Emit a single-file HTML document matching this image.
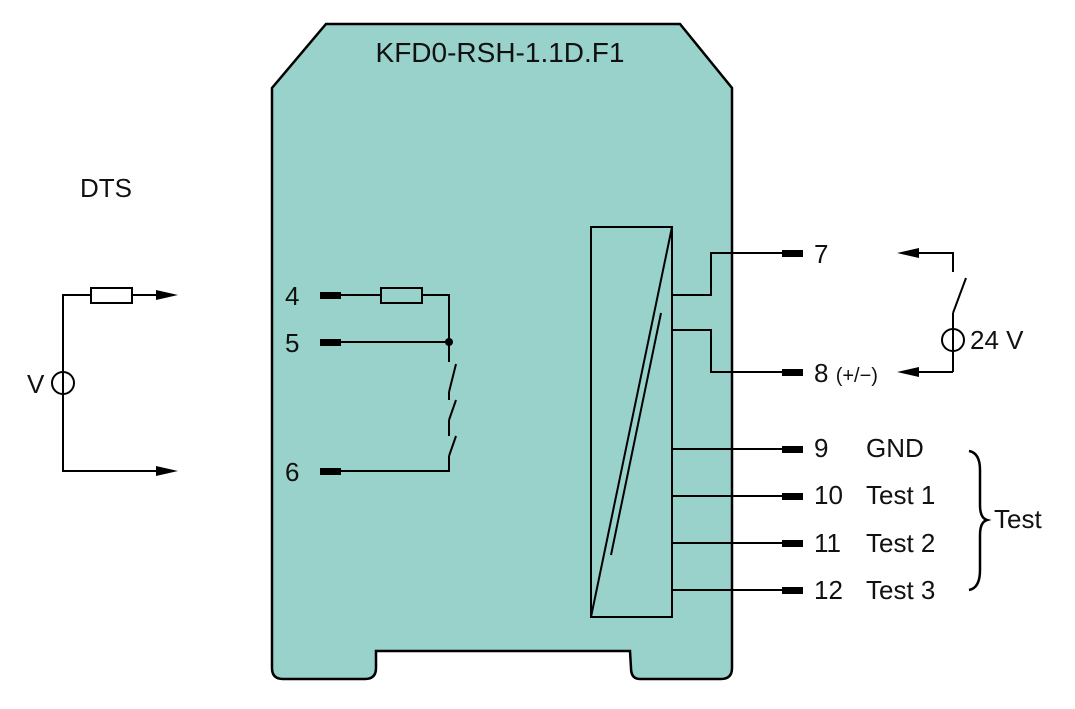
<!DOCTYPE html>
<html><head><meta charset="utf-8"><style>
html,body{margin:0;padding:0;background:#fff;}
svg{display:block;}
text{font-family:"Liberation Sans",sans-serif;fill:#111;}
</style></head><body>
<svg width="1075" height="709" viewBox="0 0 1075 709" xmlns="http://www.w3.org/2000/svg">
<path d="M326,24 L680,24 L732,88 L732,668 Q732,679 721,679 L640,679 Q631,679 631,668 L630,651 L376,651 L376,668 Q376,679 365,679 L283,679 Q272,679 272,668 L272,88 Z" fill="#99d1cb" stroke="#000" stroke-width="2.5"/>
<text x="500" y="62" font-size="28" text-anchor="middle">KFD0-RSH-1.1D.F1</text>
<text x="80" y="197" font-size="26">DTS</text>
<g stroke="#000" stroke-width="2" fill="none">
<rect x="591" y="227" width="81" height="390"/>
<line x1="591" y1="617" x2="672" y2="227"/>
<line x1="661" y1="313" x2="611" y2="555"/>
<polyline points="672,295 711,295 711,253 782,253"/>
<polyline points="672,330 711,330 711,372 782,372"/>
<line x1="672" y1="449" x2="782" y2="449"/>
<line x1="672" y1="496" x2="782" y2="496"/>
<line x1="672" y1="543" x2="782" y2="543"/>
<line x1="672" y1="590" x2="782" y2="590"/>
<line x1="341" y1="295" x2="381" y2="295"/>
<rect x="381" y="288" width="41" height="15"/>
<polyline points="422,295 449,295 449,362"/>
<line x1="341" y1="342" x2="449" y2="342"/>
<line x1="456" y1="364" x2="449" y2="392"/><line x1="449" y1="392" x2="449" y2="400"/>
<line x1="456" y1="400" x2="449" y2="420"/><line x1="449" y1="420" x2="449" y2="436"/>
<line x1="456" y1="436" x2="449" y2="456"/>
<polyline points="449,456 449,471 341,471"/>
<polyline points="63,372 63,295 91,295"/>
<rect x="91" y="288" width="41" height="15"/>
<line x1="132" y1="295" x2="160" y2="295"/>
<circle cx="63" cy="383" r="11"/>
<polyline points="63,372 63,471 160,471"/>
<polyline points="953,272 953,253 915,253"/>
<line x1="953" y1="313" x2="966" y2="278"/>
<line x1="953" y1="313" x2="953" y2="372"/>
<polyline points="953,372 915,372"/>
<circle cx="953" cy="340" r="11"/>
<path d="M969,451 Q980,453 980,470 L980,505 Q980,518 987,520 Q980,522 980,535 L980,570 Q980,588 969,590" stroke-width="2.5"/>
</g>
<g fill="#000">
<polygon points="178,295 156,290 156,300"/>
<polygon points="178,471 156,466 156,476"/>
<polygon points="897,253 919,248 919,258"/>
<polygon points="897,372 919,367 919,377"/>
<rect x="320" y="292" width="21" height="7"/>
<rect x="320" y="339" width="21" height="7"/>
<rect x="320" y="468" width="21" height="7"/>
<circle cx="449" cy="342" r="4"/>
<rect x="782" y="250" width="21" height="7"/>
<rect x="782" y="369" width="21" height="7"/>
<rect x="782" y="446" width="21" height="7"/>
<rect x="782" y="493" width="21" height="7"/>
<rect x="782" y="540" width="21" height="7"/>
<rect x="782" y="587" width="21" height="7"/>
</g>
<g font-size="26">
<text x="285" y="305">4</text>
<text x="285" y="352">5</text>
<text x="285" y="481">6</text>
<text x="27" y="393">V</text>
<text x="814" y="263">7</text>
<text x="814" y="382">8 <tspan font-size="20">(+/−)</tspan></text>
<text x="970" y="349">24 V</text>
<text x="814" y="457">9</text>
<text x="814" y="504">10</text>
<text x="814" y="552">11</text>
<text x="814" y="599">12</text>
<text x="866" y="457">GND</text>
<text x="866" y="504">Test 1</text>
<text x="866" y="552">Test 2</text>
<text x="866" y="599">Test 3</text>
<text x="994" y="528">Test</text>
</g>
</svg>
</body></html>
